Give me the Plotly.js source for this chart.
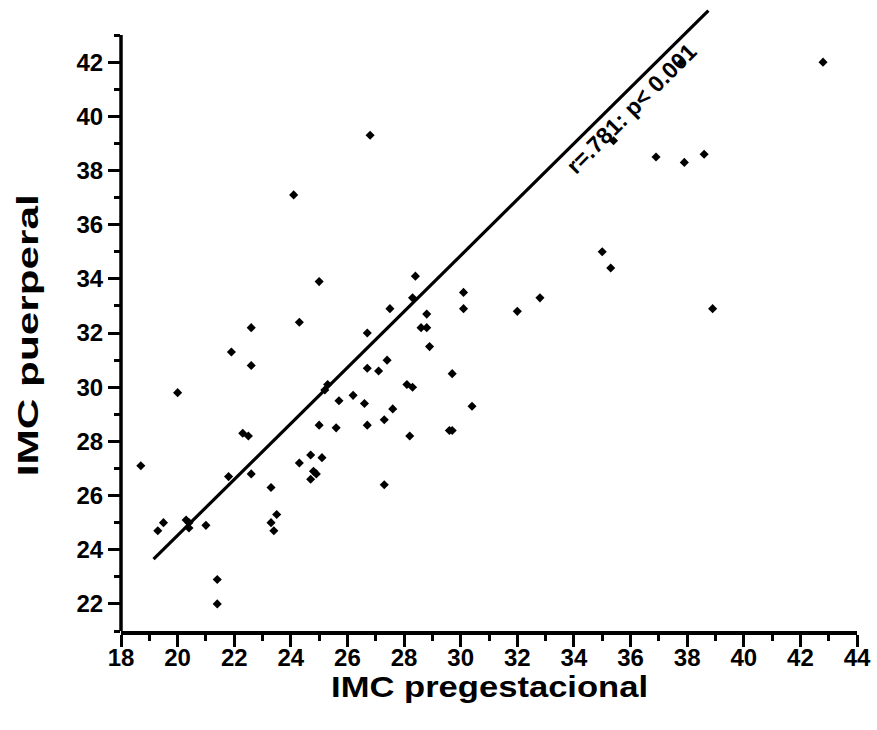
<!DOCTYPE html>
<html>
<head>
<meta charset="utf-8">
<script src="https://cdn.plot.ly/plotly-3.0.1.min.js"></script>
<style>
  html, body { margin: 0; padding: 0; background: #fff; }
  #chart { width: 877px; height: 730px; }
</style>
</head>
<body>
<div id="chart"></div>
<script>
// IMC pregestacional (x) vs IMC puerperal (y)
const imcPregestacional = [
  18.7, 19.3, 19.5, 20.0, 20.3, 20.4, 20.4, 21.0, 21.4, 21.4,
  21.8, 21.9, 22.3, 22.5, 22.6, 22.6, 22.6, 23.3, 23.3, 23.4,
  23.5, 24.1, 24.3, 24.3, 24.7, 24.7, 24.8, 24.9, 25.0, 25.0,
  25.1, 25.2, 25.3, 25.6, 25.7, 26.2, 26.6, 26.7, 26.7, 26.7,
  26.8, 27.1, 27.3, 27.3, 27.4, 27.5, 27.6, 28.1, 28.2, 28.3,
  28.3, 28.4, 28.6, 28.8, 28.8, 28.9, 29.6, 29.7, 29.7, 30.1,
  30.1, 30.4, 32.0, 32.8, 35.0, 35.3, 35.4, 36.9, 37.8, 37.9,
  38.6, 38.9, 42.8
];
const imcPuerperal = [
  27.1, 24.7, 25.0, 29.8, 25.1, 25.0, 24.8, 24.9, 22.9, 22.0,
  26.7, 31.3, 28.3, 28.2, 32.2, 30.8, 26.8, 26.3, 25.0, 24.7,
  25.3, 37.1, 32.4, 27.2, 27.5, 26.6, 26.9, 26.8, 33.9, 28.6,
  27.4, 29.9, 30.1, 28.5, 29.5, 29.7, 29.4, 32.0, 30.7, 28.6,
  39.3, 30.6, 28.8, 26.4, 31.0, 32.9, 29.2, 30.1, 28.2, 30.0,
  33.3, 34.1, 32.2, 32.2, 32.7, 31.5, 28.4, 28.4, 30.5, 33.5,
  32.9, 29.3, 32.8, 33.3, 35.0, 34.4, 39.1, 38.5, 42.0, 38.3,
  38.6, 32.9, 42.0
];

// Fitted line endpoints as drawn in the picture
const fitX = [19.15, 38.75];
const fitY = [23.65, 43.9];

// Axis ticks
const xTickVals = [18, 20, 22, 24, 26, 28, 30, 32, 34, 36, 38, 40, 42, 44];
const xMinorVals = [19, 21, 23, 25, 27, 29, 31, 33, 35, 37, 39, 41, 43];
const yTickVals = [22, 24, 26, 28, 30, 32, 34, 36, 38, 40, 42];
const yMinorVals = [21, 23, 25, 27, 29, 31, 33, 35, 37, 39, 41, 43];

const xTitle = 'IMC pregestacional';
const yTitle = 'IMC puerperal';
const statLabel = 'r=.781: p< 0.001';

const FONT = 'Liberation Sans, Arial, Helvetica, sans-serif';
const bold = v => '<b>' + v + '</b>';

const traces = [
  {
    type: 'scatter', mode: 'lines',
    x: fitX, y: fitY,
    line: { color: '#000', width: 3.2 },
    hoverinfo: 'skip', showlegend: false
  },
  {
    type: 'scatter', mode: 'markers',
    x: imcPregestacional, y: imcPuerperal,
    marker: { symbol: 'diamond', size: 7, color: '#000', line: { width: 0 } },
    showlegend: false
  }
];

const layout = {
  width: 877, height: 730,
  margin: { l: 121, r: 20, t: 8, b: 99 },
  paper_bgcolor: '#fff', plot_bgcolor: '#fff',
  font: { family: FONT, color: '#000' },
  showlegend: false,
  xaxis: {
    range: [18, 44],
    tickmode: 'array', tickvals: xTickVals, ticktext: xTickVals.map(bold),
    ticks: 'outside', ticklen: 12, tickwidth: 3, tickcolor: '#000',
    ticklabelstandoff: -9,
    minor: { tickmode: 'array', tickvals: xMinorVals, ticks: 'outside', ticklen: 6, tickwidth: 3, tickcolor: '#000', showgrid: false },
    showline: true, linewidth: 3.5, linecolor: '#000',
    showgrid: false, zeroline: false,
    tickfont: { family: FONT, size: 24, weight: 'bold', color: '#000' }
  },
  yaxis: {
    range: [21, 44],
    tickmode: 'array', tickvals: yTickVals, ticktext: yTickVals.map(bold),
    ticks: 'outside', ticklen: 12, tickwidth: 3, tickcolor: '#000',
    minor: { tickmode: 'array', tickvals: yMinorVals, ticks: 'outside', ticklen: 6, tickwidth: 3, tickcolor: '#000', showgrid: false },
    showline: false,
    showgrid: false, zeroline: false,
    tickfont: { family: FONT, size: 24, weight: 'bold', color: '#000' }
  },
  shapes: [
    { type: 'line', xref: 'paper', yref: 'y', x0: 0, x1: 0, y0: 21, y1: 43,
      line: { color: '#000', width: 3.5 }, layer: 'above' }
  ],
  annotations: [
    { text: bold(xTitle), xref: 'paper', yref: 'paper', x: 0.5, y: -0.089,
      xanchor: 'center', yanchor: 'middle', showarrow: false,
      font: { family: FONT, size: 30, color: '#000' } },
    { text: bold(yTitle), xref: 'paper', yref: 'paper', x: -0.127, y: 0.474,
      xanchor: 'center', yanchor: 'middle', textangle: -90, showarrow: false,
      font: { family: FONT, size: 30, color: '#000' } },
    { text: bold(statLabel), xref: 'x', yref: 'y', x: 36.05, y: 40.3,
      xanchor: 'center', yanchor: 'middle', textangle: -45, showarrow: false,
      font: { family: FONT, size: 23, color: '#000' } }
  ]
};

Plotly.newPlot('chart', traces, layout, { displayModeBar: false, staticPlot: true }).then(function (gd) {
  // stretch axis titles along their baseline like the original figure
  const anns = gd.querySelectorAll('.annotation-text-g text');
  anns.forEach(function (t) {
    if (t.textContent === xTitle) {
      t.setAttribute('textLength', '317'); t.setAttribute('lengthAdjust', 'spacingAndGlyphs');
    }
    if (t.textContent === yTitle) {
      t.setAttribute('textLength', '282'); t.setAttribute('lengthAdjust', 'spacingAndGlyphs');
    }
  });
});
</script>
</body>
</html>
